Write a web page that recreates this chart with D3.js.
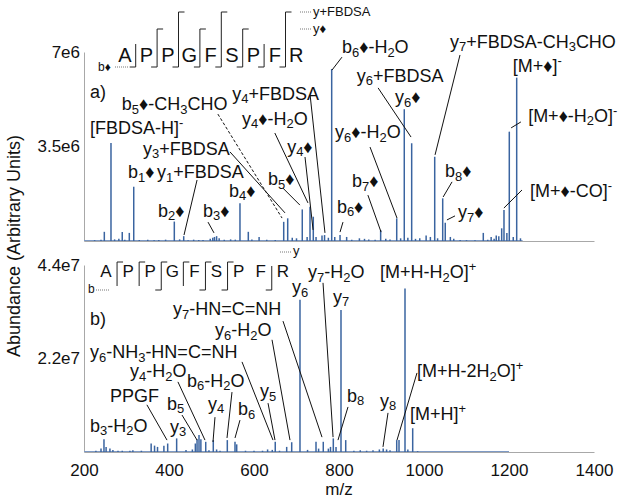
<!DOCTYPE html>
<html><head><meta charset="utf-8">
<script src="https://cdn.jsdelivr.net/npm/d3@7"></script>
<style>
body{margin:0;background:#fff}
svg{display:block}
text{font-family:"Liberation Sans",Arial,"DejaVu Sans",sans-serif;fill:#111}
</style>
</head><body>
<svg id="chart" width="624" height="498"></svg>
<script>
// ---------------- DATA ----------------
const xTickValues = [200, 400, 600, 800, 1000, 1200, 1400];
const xDomain = [200, 1400];
// panel a (intensity in units of 1e6)
const yDomainA = [0, 7];
const yTicksA = [3.5, 7];
const yTickLabelsA = ["3.5e6", "7e6"];
// panel b (intensity in units of 1e6)
const yDomainB = [0, 44];
const yTicksB = [22, 44];
const yTickLabelsB = ["2.2e7", "4.4e7"];

const spectrumRangeA = [200, 1232];
const spectrumRangeB = [200, 1200];

// peaks panel a: [m/z, intensity(1e6)]
const peaksA = [
  [225,0.03],[240,0.05],[247.8,0.34],[263.5,3.63],[272,0.06],[282,0.08],[290,0.33],[296,0.05],
  [306.6,0.30],[317,2.01],[330,0.04],[350,0.05],[365,0.03],[376,0.04],[392,0.05],[412.5,0.72],
  [425,0.06],[434.6,0.18],[445,0.03],[458,0.05],[470,0.04],[480,0.04],[497,0.08],[503,0.12],
  [507,0.15],[512,0.18],[518,0.10],[530,0.05],[545,0.06],[556,0.05],[567,1.40],[586.6,0.34],
  [595,0.06],[612,0.15],[630,0.05],[650,0.04],[669.9,0.71],[679.3,0.84],[690,0.12],[700,0.10],
  [713.6,1.17],[725,0.15],[731.8,1.27],[739.5,0.90],[746,0.15],[760,0.20],[766,0.22],[775,0.12],
  [782.8,6.37],[790,0.15],[802.4,0.22],[818,0.15],[830,0.05],[848,0.10],[860,0.08],[870,0.06],
  [885,0.05],[898,0.41],[910,0.08],[920,0.06],[935.8,0.84],[945,0.10],[953.6,4.88],[962,0.12],
  [971,3.62],[980,0.08],[990,0.10],[1005,0.20],[1015,0.15],[1025.2,3.12],[1032,0.10],[1044,1.58],
  [1050,0.68],[1062,0.15],[1070,0.08],[1085,0.04],[1100,0.03],[1120,0.03],[1139.5,0.30],[1150,0.05],
  [1158,0.15],[1165,0.08],[1170,0.20],[1176,0.18],[1182.8,0.47],[1188.2,1.15],[1195,0.30],
  [1200.7,4.05],[1210,0.15],[1218.1,6.05],[1227,0.10]
];
// peaks panel b: [m/z, intensity(1e6)]
const peaksB = [
  [228,0.3],[240,0.8],[247,3.0],[252,1.2],[261,0.8],[268,0.5],[280,0.3],[290,0.3],[308,0.3],
  [315,0.4],[335,0.3],[358,2.0],[366,1.5],[373,1.2],[388,1.5],[396.9,2.0],[418,3.2],[440,0.5],
  [455,0.6],[462,2.0],[466,3.0],[470.6,4.0],[475,3.0],[486.4,2.4],[494,0.4],[504.2,2.8],[512,0.6],
  [520,0.3],[537.2,2.8],[555.3,2.4],[559.3,1.8],[580,0.3],[600,0.3],[620,0.3],[632,0.6],[643,0.5],
  [650,2.4],[660,0.3],[676.9,1.2],[688.7,2.3],[708.2,35.8],[726,0.5],[745.9,2.4],[752,0.8],
  [763,2.4],[775,0.8],[780,1.2],[786.6,3.2],[793,1.2],[804.7,33.4],[815.8,2.8],[835,0.3],[850,0.4],
  [865,0.3],[880,0.4],[895,0.6],[904,0.8],[912,0.6],[920,0.4],[935.8,2.8],[941.2,2.8],[955.3,38.5],
  [962,0.6],[973.4,5.6],[985,0.2]
];

// annotations: label position (m/z, intensity) and optional leader line [mz1,i1,mz2,i2]
const annotA = [
  {t:"a)", x:214, y:5.3},
  {t:"[FBDSA-H]^-", x:214, y:3.95},
  {t:"b_5♦-CH_3CHO", x:289, y:4.84, l:[515,4.70,666,0.85], dash:true},
  {t:"y_4+FBDSA", x:549, y:5.24, l:[732,5.41,767,0.30]},
  {t:"y_4♦-H_2O", x:572, y:4.3, l:[649,4.0,727,1.41]},
  {t:"y_3+FBDSA", x:339, y:3.19, l:[543.5,3.30,673,1.04]},
  {t:"y_4♦", x:678, y:3.26, l:[720,3.11,739,0.41]},
  {t:"b_1♦", x:303.5, y:2.33},
  {t:"y_1+FBDSA", x:372, y:2.33, l:[466,2.26,435.3,0.22]},
  {t:"b_5♦", x:633, y:2.07, l:[668,1.96,708,1.33]},
  {t:"b_4♦", x:541, y:1.63},
  {t:"b_2♦", x:374, y:0.89},
  {t:"b_3♦", x:480, y:0.89, l:[491.8,0.70,505.9,0.30]},
  {t:"b_6♦-H_2O", x:807, y:6.96, l:[807,6.81,783.5,6.33]},
  {t:"y_7+FBDSA-CH_3CHO", x:1061, y:7.15, l:[1084.7,6.89,1026,3.19]},
  {t:"[M+♦]^-", x:1209, y:6.26},
  {t:"y_6+FBDSA", x:842, y:5.89, l:[892,5.67,969.5,3.85]},
  {t:"y_6♦", x:932, y:5.11},
  {t:"[M+♦-H_2O]^-", x:1245, y:4.41, l:[1228,4.41,1205,4.19]},
  {t:"y_6♦-H_2O", x:790.6, y:3.81, l:[873,3.48,936.5,0.85]},
  {t:"b_7♦", x:830.6, y:2.0, l:[868,1.70,899,0.33]},
  {t:"b_8♦", x:1049.5, y:2.37, l:[1066,2.19,1045,1.63]},
  {t:"[M+♦-CO]^-", x:1249.5, y:1.63, l:[1230.6,1.89,1188,1.22]},
  {t:"b_6♦", x:795, y:1.04, l:[809.4,0.70,802.4,0.33]},
  {t:"y_7♦", x:1080, y:0.85, l:[1073,0.93,1054,0.78]}
];
const annotB = [
  {t:"b)", x:214, y:29.9},
  {t:"y_7-HN=C=NH", x:409.4, y:32.2, l:[668.2,30.8,760,3.5]},
  {t:"y_6-H_2O", x:508.2, y:27.2, l:[642.4,26.4,684.7,2.8]},
  {t:"y_6-NH_3-HN=C=NH", x:214, y:22.1, l:[571.8,21.2,644.7,2.8]},
  {t:"y_4-H_2O", x:308.2, y:17.6, l:[421,16.5,484.7,2.8]},
  {t:"b_6-H_2O", x:442.4, y:15.4, l:[548.2,14.1,536.5,3.3]},
  {t:"y_5", x:614, y:12.9, l:[633,11.5,649.4,2.8]},
  {t:"PPGF", x:261, y:11.8, l:[348,11.1,395.3,2.8]},
  {t:"b_5", x:395.3, y:9.9, l:[430.6,8.7,466,2.8]},
  {t:"y_4", x:491.8, y:9.9, l:[508.2,8.2,503.5,2.35]},
  {t:"b_6", x:562.4, y:8.7, l:[567,7.5,555.3,3.3]},
  {t:"b_3-H_2O", x:214, y:4.8},
  {t:"y_3", x:402.4, y:4.5},
  {t:"y_6", x:689.4, y:37.4},
  {t:"y_7-H_2O", x:727, y:40.9, l:[762.4,39.8,786,3.5]},
  {t:"y_7", x:786, y:35.1},
  {t:"[M+H-H_2O]^+", x:896.5, y:40.9},
  {t:"[M+H-2H_2O]^+", x:983.5, y:17.6, l:[983.5,18.6,936.5,2.8]},
  {t:"b_8", x:819, y:11.8, l:[821.2,10.6,797.6,2.8]},
  {t:"y_8", x:896.5, y:10.6, l:[915.3,9.2,903.5,1.2]},
  {t:"[M+H]^+", x:967, y:7.5}
];

// peptide sequence and fragment-cleavage notation (cut k = between residue k and k+1)
const sequence = ["A","P","P","G","F","S","P","F","R"];
const bCutsA = [1,2,3,4,5,6,7,8];
const yHighCutsA = [3,5,8];   // y+FBDSA
const yMidCutsA = [2,4,6];    // y♦
const bCutsB = [3,5,6,8];
const yCutsB = [1,2,3,4,5,6];

const xTitle = "m/z";
const yTitle = "Abundance (Arbitrary Units)";

// ---------------- DRAW ----------------
const svg = d3.select("#chart");
const peakColor = "#3a64a0";
const axisColor = "#a8a8a8";
const labelSize = 18;

const x = d3.scaleLinear().domain(xDomain).range([84, 594]);
const yA = d3.scaleLinear().domain(yDomainA).range([241, 52]);
const yB = d3.scaleLinear().domain(yDomainB).range([452, 265]);

function rich(sel, s) {
  const parts = s.split(/(_\d+|\^[+\-])/).filter(p => p !== "");
  let shift = 0;
  parts.forEach(p => {
    if (p[0] === "_") {
      sel.append("tspan").attr("dy", 3.5 - shift).attr("font-size", "0.72em").text(p.slice(1));
      shift = 3.5;
    } else if (p[0] === "^") {
      sel.append("tspan").attr("dy", -7 - shift).attr("font-size", "0.72em").text(p.slice(1));
      shift = -7;
    } else {
      sel.append("tspan").attr("dy", -shift).text(p);
      shift = 0;
    }
  });
}

function panel(y, peaks, annots, yTicks, yLabels, range, showX) {
  const g = svg.append("g");
  const ax = g.append("g").attr("transform", `translate(0,${y(0)})`)
    .call(d3.axisBottom(x).tickValues(xTickValues).tickSize(0).tickPadding(12)
      .tickFormat(showX ? d3.format("d") : ""));
  ax.select(".domain").attr("stroke", axisColor);
  ax.selectAll("text").attr("font-size", 17).attr("font-family", "Liberation Sans, Arial, sans-serif").attr("fill", "#111");
  const ay = g.append("g").attr("transform", `translate(84,0)`)
    .call(d3.axisLeft(y).tickValues(yTicks).tickSize(0).tickPadding(4)
      .tickFormat((d, i) => yLabels[i]));
  ay.select(".domain").attr("stroke", axisColor);
  ay.selectAll("text").attr("font-size", 17).attr("font-family", "Liberation Sans, Arial, sans-serif").attr("fill", "#111");

  g.append("line").attr("x1", x(range[0])).attr("x2", x(range[1]))
    .attr("y1", y(0) - 0.5).attr("y2", y(0) - 0.5)
    .attr("stroke", "#7d99c4").attr("stroke-width", 1.2);
  g.selectAll(".pk").data(peaks).enter().append("line")
    .attr("x1", d => x(d[0])).attr("x2", d => x(d[0]))
    .attr("y1", y(0)).attr("y2", d => y(d[1]))
    .attr("stroke", peakColor).attr("stroke-width", 1.5);

  g.selectAll(".ld").data(annots.filter(a => a.l)).enter().append("line")
    .attr("x1", d => x(d.l[0])).attr("y1", d => y(d.l[1]))
    .attr("x2", d => x(d.l[2])).attr("y2", d => y(d.l[3]))
    .attr("stroke", "#111").attr("stroke-width", 1)
    .attr("stroke-dasharray", d => d.dash ? "3,2" : null);
  annots.forEach(a => {
    const t = g.append("text").attr("x", x(a.x)).attr("y", y(a.y)).attr("font-size", labelSize);
    rich(t, a.t);
  });
}

panel(yA, peaksA, annotA, yTicksA, yTickLabelsA, spectrumRangeA, false);
panel(yB, peaksB, annotB, yTicksB, yTickLabelsB, spectrumRangeB, true);

function header(opts) {
  const g = svg.append("g");
  const cx = i => opts.x0 + i * opts.step;
  g.selectAll(".aa").data(sequence).enter().append("text")
    .attr("x", (d, i) => cx(i)).attr("y", opts.base)
    .attr("text-anchor", "middle").attr("font-size", opts.fs).text(d => d);
  const line = (x1, y1, x2, y2, dotted) => {
    const l = g.append("line").attr("x1", x1).attr("y1", y1).attr("x2", x2).attr("y2", y2)
      .attr("stroke", dotted ? "#777" : "#222").attr("stroke-width", 1);
    if (dotted) l.attr("stroke-dasharray", "1,1");
  };
  for (let k = 1; k < sequence.length; k++) {
    const isB = opts.b.includes(k), isH = opts.yH.includes(k), isM = opts.yM.includes(k);
    if (!isB && !isH && !isM) continue;
    const xc = (cx(k - 1) + cx(k)) / 2;
    const top = isH ? opts.hiY : isM ? opts.midY : opts.plainTop;
    const bot = isB ? opts.bY : opts.plainBot;
    line(xc, top, xc, bot);
    if (isB) line(xc - 6, opts.bY, xc, opts.bY);
    if (isH) line(xc, opts.hiY, xc + 6, opts.hiY);
    if (isM) line(xc, opts.midY, xc + 6, opts.midY);
  }
  return {g, cx, line};
}

const hA = header({x0: 125, step: 21.4, base: 62, fs: 20, b: bCutsA, yH: yHighCutsA, yM: yMidCutsA,
  hiY: 12, midY: 29, bY: 67, plainTop: 44, plainBot: 64});
hA.line(115, 67, 128, 67, true);
svg.append("text").attr("x", 98).attr("y", 71).attr("font-size", 12).text("b♦");
hA.line(300, 12, 312, 12, true);
hA.line(300, 29, 312, 29, true);
svg.append("text").attr("x", 313).attr("y", 16).attr("font-size", 13).text("y+FBDSA");
svg.append("text").attr("x", 313).attr("y", 33).attr("font-size", 13).text("y♦");

const hB = header({x0: 106, step: 22.1, base: 277, fs: 17, b: bCutsB, yH: yCutsB, yM: [],
  hiY: 262, midY: 262, bY: 290, plainTop: 266, plainBot: 286});
hB.line(96, 290, 109, 290, true);
svg.append("text").attr("x", 88).attr("y", 293).attr("font-size", 12).text("b");
hB.line(280, 252, 292, 252, true);
svg.append("text").attr("x", 293).attr("y", 255).attr("font-size", 13).text("y");

svg.append("text").attr("x", 339).attr("y", 495).attr("text-anchor", "middle")
  .attr("font-size", 17).text(xTitle);
svg.append("text").attr("transform", "translate(20,246) rotate(-90)")
  .attr("text-anchor", "middle").attr("font-size", 18).text(yTitle);
</script>
</body></html>
